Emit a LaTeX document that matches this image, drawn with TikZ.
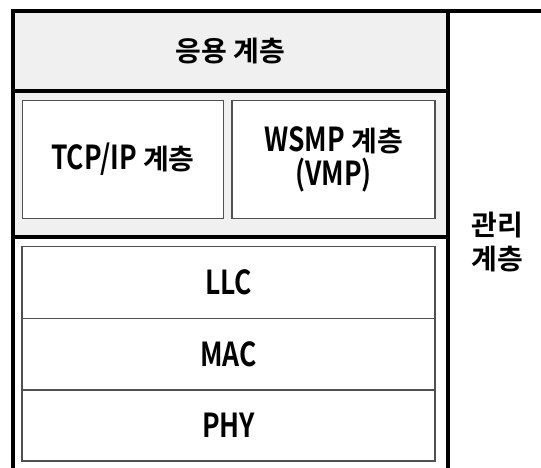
\documentclass[tikz,border=0pt]{standalone}
\usepackage{fontspec}
\setmainfont{Noto Sans CJK KR}[UprightFont=* Bold, BoldFont=* Bold]
\newfontfamily\lat{Noto Sans CJK KR}[UprightFont=* Bold, BoldFont=* Bold, Scale=1.18, FakeStretch=0.8]
\definecolor{bandgray}{HTML}{F0F0F0}
\definecolor{boxline}{HTML}{505050}
\tikzset{
  band/.style={rectangle, fill=bandgray, draw=none, inner sep=0pt, outer sep=0pt},
  layerbox/.style={rectangle, fill=white, draw=boxline, line width=1.3pt, inner sep=0pt, outer sep=0pt, align=center},
  heavy/.style={line width=4pt, black},
  lbl/.style={font=\fontsize{28}{33.4}\selectfont}
}
\begin{document}
\begin{tikzpicture}[x=1pt,y=-1pt]
\useasboundingbox (0,0) rectangle (541,468);
% bands
\node[band, minimum width=435.5pt, minimum height=79.8pt, lbl] (app) at (230.25,51.4) {응용 계층};
\node[band, minimum width=435.5pt, minimum height=145.4pt] (mid) at (230.25,164) {};
% inner boxes
\node[layerbox, minimum width=201.4pt, minimum height=117.6pt, lbl] (tcp) at (123,159.5) {{\lat TCP/IP} 계층};
\node[layerbox, minimum width=203pt, minimum height=117.6pt, lbl] (wsmp) at (333.5,159.5) {{\lat WSMP} 계층\\{\lat (VMP)}};
\node[layerbox, minimum width=413pt, minimum height=71.6pt, lbl] (llc) at (228.5,282.5) {\lat LLC};
\node[layerbox, minimum width=413pt, minimum height=71.7pt, lbl] (mac) at (228.5,354.2) {\lat MAC};
\node[layerbox, minimum width=413pt, minimum height=71pt, lbl] (phy) at (228.5,425.5) {\lat PHY};
\node[lbl, align=center, inner sep=0pt] (mgmt) at (497.5,242) {관리\\계층};
% heavy frame lines
\coordinate (tl) at (11,11.5);
\coordinate (tr) at (541,11.5);
\coordinate (lb) at (12.5,468);
\coordinate (rt) at (448,11.5);
\coordinate (rb) at (448,468);
\draw[heavy] (tl) -- (tr);
\draw[heavy] (12.5,11.5) -- (lb);
\draw[heavy] (rt) -- (rb);
\draw[heavy] (12.5,91.3) -- (448,91.3);
\draw[heavy] (12.5,236.7) -- (448,236.7);
\end{tikzpicture}
\end{document}
